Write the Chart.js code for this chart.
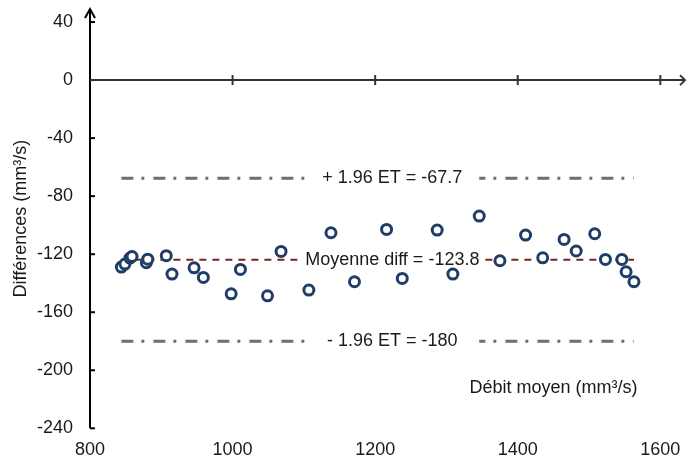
<!DOCTYPE html>
<html>
<head>
<meta charset="utf-8">
<script src="https://cdn.jsdelivr.net/npm/chart.js@4"></script>
<style>
    html, body { margin: 0; padding: 0; background: #fff; }
    #wrap { width: 686px; height: 461px; }
</style>
</head>
<body>
<div id="wrap"><canvas id="chart"></canvas></div>
<script>
// données Bland-Altman
let debitMoyen = [844, 849, 856, 859, 879, 881, 907, 915, 946, 959, 998, 1011, 1049, 1068, 1107, 1138,
    1171, 1216, 1238, 1287, 1309, 1346, 1375, 1411, 1435, 1465, 1482, 1508, 1523, 1546, 1552, 1563];
let differences = [-128.9, -126.8, -122.7, -121.6, -125.9, -123.4, -121.0, -133.7, -129.4, -136.0, -147.3, -130.5,
    -148.7, -118.1, -144.7, -105.2, -139.0, -102.9, -136.7, -103.4, -133.7, -93.7, -124.5, -106.8,
    -122.5, -109.8, -117.8, -105.9, -123.6, -123.6, -132.1, -139.0];
let moyenneDiff = -123.8;
let limiteHaute = -67.7;
let limiteBasse = -180;
let xTicks = [800, 1000, 1200, 1400, 1600];
let yTicks = [-240, -200, -160, -120, -80, -40, 0, 40];

let font = "'Liberation Sans', Arial, sans-serif";
let xMin = Math.min(...debitMoyen);
let xMax = Math.max(...debitMoyen);
let labelX = 1224;

let horizontal = (y) => [{ x: xMin, y: y }, { x: xMax, y: y }];

// axes "Excel" : axe vertical à 800, axe horizontal à 0, avec flèches
let axesPlugin = {
    id: 'axes',
    beforeDatasetsDraw(chart) {
        let { ctx, scales: { x, y } } = chart;
        let x0 = x.getPixelForValue(800);
        let y0 = y.getPixelForValue(0);
        let top = chart.chartArea.top;
        let right = chart.chartArea.right;
        ctx.save();
        ctx.lineCap = 'butt';

        // axe vertical
        ctx.strokeStyle = '#000';
        ctx.lineWidth = 2;
        ctx.beginPath();
        ctx.moveTo(x0, y.getPixelForValue(-240));
        ctx.lineTo(x0, top);
        ctx.stroke();
        ctx.beginPath();
        ctx.moveTo(x0 - 5, top + 9);
        ctx.lineTo(x0, top);
        ctx.lineTo(x0 + 5, top + 9);
        ctx.stroke();
        yTicks.forEach((v) => {
            let py = y.getPixelForValue(v);
            ctx.beginPath();
            ctx.moveTo(x0, py);
            ctx.lineTo(x0 + 5, py);
            ctx.stroke();
        });

        // axe horizontal à y = 0
        ctx.strokeStyle = '#333';
        ctx.beginPath();
        ctx.moveTo(x0, y0);
        ctx.lineTo(right - 1, y0);
        ctx.stroke();
        ctx.beginPath();
        ctx.moveTo(right - 6, y0 - 5);
        ctx.lineTo(right - 1, y0);
        ctx.lineTo(right - 6, y0 + 5);
        ctx.stroke();
        xTicks.filter((v) => v !== 800).forEach((v) => {
            let px = x.getPixelForValue(v);
            ctx.beginPath();
            ctx.moveTo(px, y0 - 5);
            ctx.lineTo(px, y0 + 5);
            ctx.stroke();
        });

        // titre de l'axe X, dans la zone du graphique
        ctx.fillStyle = '#1a1a1a';
        ctx.font = '18px ' + font;
        ctx.textAlign = 'center';
        ctx.textBaseline = 'middle';
        ctx.fillText('Débit moyen (mm³/s)', x.getPixelForValue(1450), y.getPixelForValue(-212));
        ctx.restore();
    },
    // étiquettes des lignes, dessinées avant les points
    beforeDatasetDraw(chart, args) {
        if (args.index !== 0) return;
        let { ctx, scales: { x, y } } = chart;
        let px = x.getPixelForValue(labelX);
        ctx.save();
        ctx.font = '18px ' + font;
        ctx.textAlign = 'center';
        ctx.textBaseline = 'middle';
        [
            ['+ 1.96 ET = -67.7', limiteHaute, 174],
            ['Moyenne diff = -123.8', moyenneDiff, 0],
            ['- 1.96 ET = -180', limiteBasse, 174]
        ].forEach(([txt, v, w]) => {
            let py = y.getPixelForValue(v);
            let boxW = w || ctx.measureText(txt).width + 10;
            ctx.fillStyle = '#fff';
            ctx.fillRect(px - boxW / 2, py - 10, boxW, 20);
            ctx.fillStyle = '#1a1a1a';
            ctx.fillText(txt, px, py);
        });
        ctx.restore();
    }
};

new Chart(document.getElementById('chart'), {
    type: 'scatter',
    data: {
        datasets: [
            {
                label: 'Différences',
                data: debitMoyen.map((v, i) => ({ x: v, y: differences[i] })),
                pointRadius: 5,
                pointBorderWidth: 3,
                pointBorderColor: '#1f3d66',
                pointBackgroundColor: '#fff',
                showLine: false
            },
            {
                label: 'Moyenne',
                data: horizontal(moyenneDiff),
                showLine: true,
                borderColor: '#7b2222',
                borderWidth: 2,
                borderDash: [7, 6],
                pointRadius: 0
            },
            {
                label: '+1.96 ET',
                data: horizontal(limiteHaute),
                showLine: true,
                borderColor: '#6e6e6e',
                borderWidth: 3,
                borderDash: [12, 8, 3, 9],
                pointRadius: 0
            },
            {
                label: '-1.96 ET',
                data: horizontal(limiteBasse),
                showLine: true,
                borderColor: '#6e6e6e',
                borderWidth: 3,
                borderDash: [12, 8, 3, 9],
                pointRadius: 0
            }
        ]
    },
    options: {
        responsive: true,
        maintainAspectRatio: false,
        animation: false,
        devicePixelRatio: 1,
        layout: { autoPadding: false, padding: { top: 9, right: 0, left: 0, bottom: 0 } },
        plugins: {
            legend: { display: false },
            tooltip: { enabled: false }
        },
        scales: {
            x: {
                type: 'linear',
                min: 800,
                max: 1636,
                afterBuildTicks: (s) => { s.ticks = xTicks.map((v) => ({ value: v })); },
                afterFit: (s) => {
                    s.height = 32.7;
                    s.paddingLeft = 0;
                    s.paddingRight = 0;
                },
                grid: { display: false, drawTicks: false },
                border: { display: false },
                ticks: {
                    padding: 11,
                    color: '#1a1a1a',
                    font: { family: font, size: 18 },
                    callback: (v) => String(v)
                }
            },
            y: {
                min: -240,
                max: 49,
                afterBuildTicks: (s) => { s.ticks = yTicks.map((v) => ({ value: v })); },
                afterFit: (s) => {
                    s.width = 90;
                    s.paddingTop = 0;
                    s.paddingBottom = 0;
                },
                grid: { display: false, drawTicks: false },
                border: { display: false },
                ticks: {
                    padding: 17,
                    color: '#1a1a1a',
                    font: { family: font, size: 18 },
                    callback: (v) => String(v)
                },
                title: {
                    display: true,
                    text: 'Différences (mm³/s)',
                    color: '#1a1a1a',
                    font: { family: font, size: 18 },
                    padding: { top: 10, bottom: 0 }
                }
            }
        }
    },
    plugins: [axesPlugin]
});
</script>
</body>
</html>
